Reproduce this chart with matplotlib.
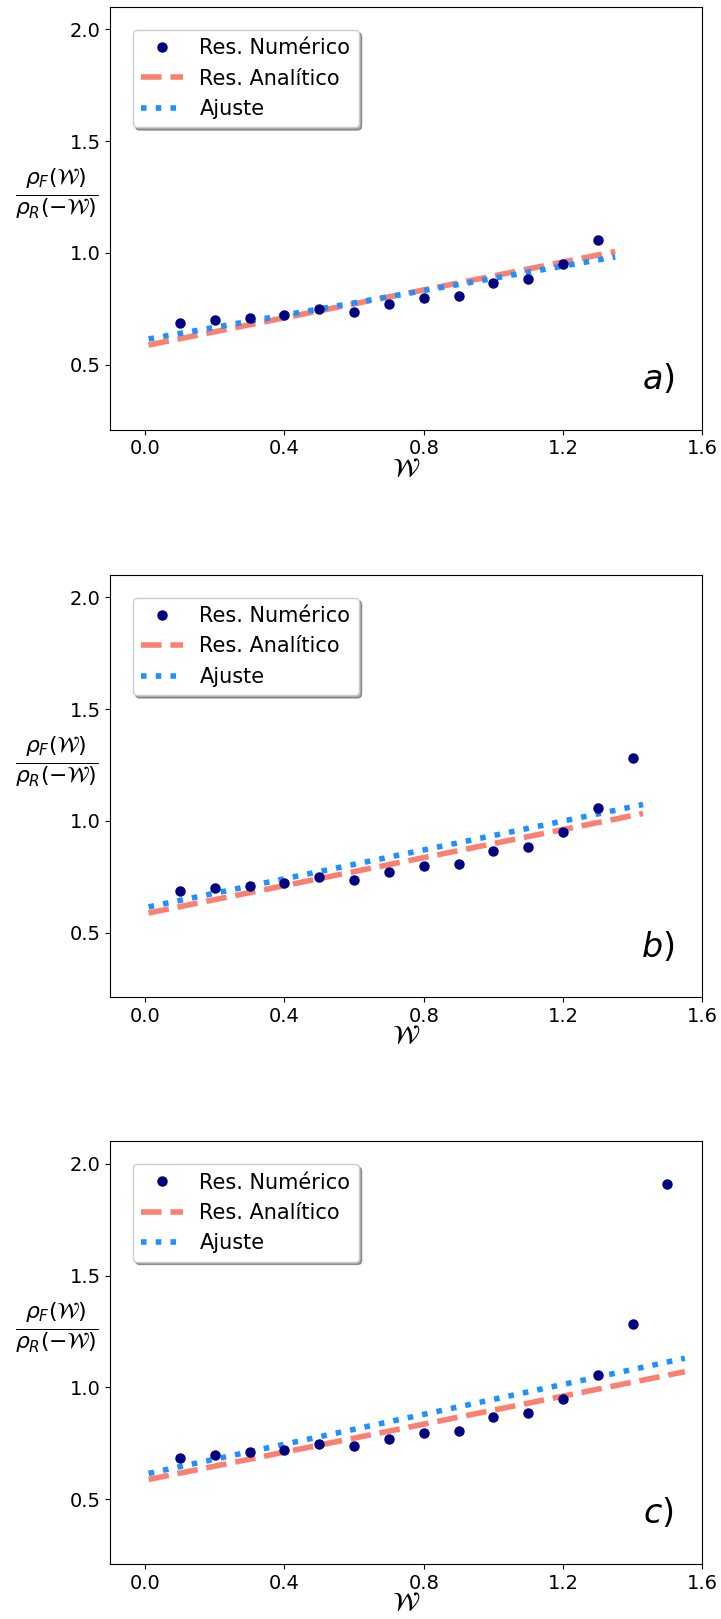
import matplotlib
matplotlib.use("Agg")
import matplotlib.pyplot as plt

# datos numericos (W, cociente)
W_num = [0.1, 0.2, 0.3, 0.4, 0.5, 0.6, 0.7, 0.8, 0.9, 1.0, 1.1, 1.2, 1.3, 1.4, 1.5]
R_num = [0.685, 0.698, 0.709, 0.720, 0.747, 0.736, 0.771, 0.797, 0.806,
         0.866, 0.884, 0.950, 1.057, 1.282, 1.910]
n_puntos = [13, 14, 15]

# extremos de las rectas (analitico y ajuste) por panel
W_ini = [0.01, 0.01, 0.01]
W_fin = [1.35, 1.43, 1.55]
anal_ini = [0.588, 0.588, 0.588]
anal_fin = [1.006, 1.033, 1.070]
ajuste_ini = [0.615, 0.615, 0.615]
ajuste_fin = [0.982, 1.073, 1.130]
etiquetas = ["$a)$", "$b)$", "$c)$"]

fig = plt.figure(figsize=(7.21, 16.19), dpi=100)
bottoms = [0.7347, 0.3839, 0.034]

for k in range(3):
    ax = fig.add_axes([0.153, bottoms[k], 0.821, 0.261])
    n = n_puntos[k]
    ax.plot(W_num[:n], R_num[:n], "o", color="navy", markersize=6.5,
            label="Res. Numérico", zorder=3)
    ax.plot([W_ini[k], W_fin[k]], [anal_ini[k], anal_fin[k]], "--",
            color="salmon", lw=4, label="Res. Analítico")
    ax.plot([W_ini[k], W_fin[k]], [ajuste_ini[k], ajuste_fin[k]], ":",
            color="dodgerblue", lw=4, label="Ajuste")

    ax.set_xlim(-0.1, 1.6)
    ax.set_ylim(0.21, 2.1)
    ax.set_xticks([0.0, 0.4, 0.8, 1.2, 1.6])
    ax.set_yticks([0.5, 1.0, 1.5, 2.0])
    ax.tick_params(labelsize=14)
    ax.set_xlabel(r"$\mathcal{W}$", fontsize=19, labelpad=-2)
    ax.set_ylabel(r"$\frac{\rho_F(\mathcal{W})}{\rho_R(-\mathcal{W})}$",
                  fontsize=22.5, rotation=0, ha="center", va="center")
    ax.yaxis.set_label_coords(-0.09, 0.56)
    ax.text(0.925, 0.12, etiquetas[k], transform=ax.transAxes,
            fontsize=24, ha="center", va="center")
    ax.legend(loc="upper left", bbox_to_anchor=(0.038, 0.946),
              borderaxespad=0, fontsize=15, shadow=True, numpoints=1)

fig.savefig("out.png", dpi=100)
